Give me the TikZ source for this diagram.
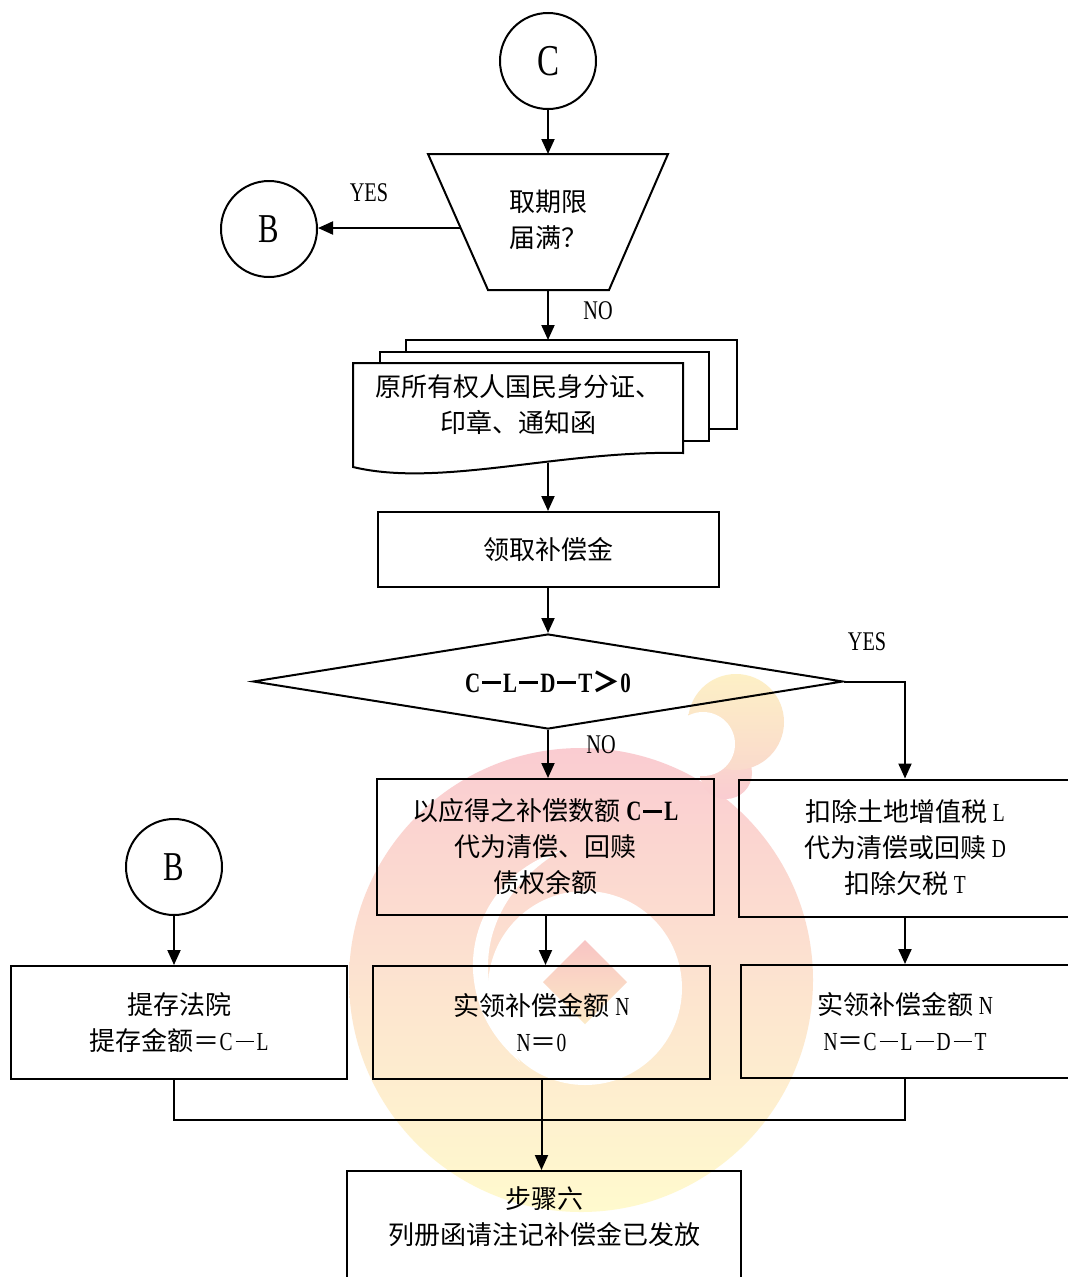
\documentclass[tikz,border=0pt]{standalone}
\usepackage{fontspec}
\setmainfont{Liberation Serif}
\newfontfamily\cjk{Noto Sans CJK SC}
\newfontfamily\latn[FakeStretch=0.75]{Liberation Serif}
\usetikzlibrary{shapes.geometric,arrows.meta}

\definecolor{wmred}{RGB}{250,204,209}
\definecolor{wmmid}{RGB}{251,226,208}
\definecolor{wmyel}{RGB}{255,250,206}
\definecolor{wmcurlA}{RGB}{253,240,198}
\definecolor{wmcurlB}{RGB}{250,218,204}
\definecolor{wmdiaA}{RGB}{248,196,196}
\definecolor{wmdiaB}{RGB}{252,234,198}

\newcommand\zhfont{\cjk\fontsize{26}{36}\selectfont}
\newcommand\tagfont{\latn\fontsize{27}{27}\selectfont}
\newcommand\latbf[1]{{\latn\bfseries #1}}
\newcommand\romn[1]{{\latn #1}}
% long minus signs drawn as rules
\newcommand\mdash{\hspace{3pt}\rule[8pt]{18pt}{1.4pt}\hspace{3pt}}
\newcommand\bdash{\hspace{2pt}\rule[8pt]{19pt}{2.8pt}\hspace{2pt}}

\begin{document}
\begin{tikzpicture}[x=1pt,y=-1pt,line width=2pt,
  conn/.style={-{Triangle[length=15pt,width=13pt]}},
  stepbox/.style={draw,rectangle,inner sep=0pt,align=center,font=\zhfont},
  ring/.style={draw,circle,inner sep=0pt,minimum size=96pt},
  tag/.style={font=\tagfont,inner sep=0pt},
  txt/.style={font=\zhfont,align=center,inner sep=0pt}]
\useasboundingbox (0,0) rectangle (1068,1277);
\clip (0,0) rectangle (1068,1277);
\fill[white] (0,0) rectangle (1068,1277);

% ---- background emblem ----
\shade[top color=wmred,middle color=wmmid,bottom color=wmyel] (581,980) circle[radius=232];
\shade[top color=wmcurlB,bottom color=wmred] (726,773) circle[radius=26];
\shade[top color=wmcurlA,bottom color=wmcurlB] (736,722) circle[radius=48];
\fill[white] (703,744) circle[radius=32];
\fill[white]
  (562,850) .. controls (502,868) and (471,920) .. (473,970)
  .. controls (475,1010) and (494,1040) .. (520,1062)
  .. controls (500,1030) and (488,1000) .. (488,966)
  .. controls (488,920) and (516,876) .. (562,850) -- cycle;
\fill[white] (585,988) circle[radius=97];
\shade[top color=wmdiaA,bottom color=wmdiaB] (585,940) -- (627,982) -- (585,1024) -- (543,982) -- cycle;

% ---- connector circles ----
\node[ring] (C) at (548,61) {\latn\fontsize{44}{44}\selectfont C};
\node[ring] (B1) at (269,229) {\latn\fontsize{41}{41}\selectfont B};
\node[ring] (B2) at (174,867) {\latn\fontsize{41}{41}\selectfont B};

% ---- manual input: term expired? ----
\coordinate (tq1) at (428,154);
\coordinate (tq2) at (668,154);
\coordinate (tq3) at (609,290);
\coordinate (tq4) at (488,290);
\draw (tq1) -- (tq2) -- (tq3) -- (tq4) -- cycle;
\node[txt,align=left] (qtxt) at (548,220) {取期限\\届满？};
\coordinate (qtop) at (548,154);
\coordinate (qbot) at (548,290);
\coordinate (qleft) at (461,228);

\draw[conn] (C.south) -- (qtop);
\draw[conn] (qleft) -- (qleft -| B1.east);
\node[tag] (yes1) at (369,193) {YES};

% ---- document stack ----
\draw[fill=white] (406,340) rectangle (737,429);
\draw[fill=white] (380,352) rectangle (709,441);
\draw[fill=white] (353,363) -- (683,363) -- (683,453)
  .. controls (560,450) and (440,488) .. (353,467) -- cycle;
\node[txt] (docs) at (518,405) {原所有权人国民身分证、\\印章、通知函};
\coordinate (stacktop) at (548,340);
\coordinate (docb) at (548,463);

\draw[conn] (qbot) -- (stacktop);
\node[tag] (no1) at (598,311) {NO};

% ---- receive compensation ----
\node[stepbox,minimum width=341pt,minimum height=75pt] (take) at (548,549.5) {领取补偿金};
\draw[conn] (docb) -- (take.north);

% ---- decision ----
\node[draw,diamond,minimum width=590pt,minimum height=95pt,inner sep=0pt,shape aspect=6]
  (dec) at (548,681.5)
  {\fontsize{28}{28}\selectfont\latbf{C}\bdash\latbf{L}\bdash\latbf{D}\bdash\latbf{T}{\cjk\bfseries ＞}\latbf{0}};
\draw[conn] (take.south) -- (dec.north);
\node[tag] (yes2) at (867,642) {YES};
\node[tag] (no2) at (601,745) {NO};

% ---- branch boxes ----
\node[stepbox,minimum width=337pt,minimum height=136pt] (m1) at (545.5,847)
  {以应得之补偿数额 {\fontsize{28}{36}\selectfont\latbf{C}\bdash\latbf{L}}\\代为清偿、回赎\\债权余额};
\node[stepbox,minimum width=332pt,minimum height=137pt] (r1) at (905,848)
  {扣除土地增值税 \romn{L}\\代为清偿或回赎 \romn{D}\\扣除欠税 \romn{T}};
\node[stepbox,minimum width=337pt,minimum height=113pt] (m2) at (541.5,1022.5)
  {实领补偿金额 \romn{N}\\\romn{N}＝\romn{0}};
\node[stepbox,minimum width=328pt,minimum height=113pt] (r2) at (905,1021.5)
  {实领补偿金额 \romn{N}\\\romn{N}＝\romn{C}\mdash\romn{L}\mdash\romn{D}\mdash\romn{T}};
\node[stepbox,minimum width=336pt,minimum height=113pt] (s1) at (179,1022.5)
  {提存法院\\提存金额＝\romn{C}\mdash\romn{L}};

\draw[conn] (dec.south) -- (dec.south |- m1.north);
\draw[conn] (dec.east) -| (r1.north);
\draw[conn] (m1.south) -- (m1.south |- m2.north);
\draw[conn] (r1.south) -- (r2.north);
\draw[conn] (B2.south) -- (B2.south |- s1.north);

% ---- final step ----
\node[draw,rectangle,minimum width=394pt,minimum height=140pt,anchor=north] (fin) at (544,1170) {};
\node[txt] (fintxt) at (544,1216.5) {步骤六\\列册函请注记补偿金已发放};

\coordinate (mergeL) at (174,1120);
\coordinate (mergeR) at (905,1120);
\draw (B2 |- s1.south) -- (mergeL) -- (mergeR) -- (r2.south);
\draw[conn] (m2.south) -- (m2.south |- fin.north);
\end{tikzpicture}
\end{document}
